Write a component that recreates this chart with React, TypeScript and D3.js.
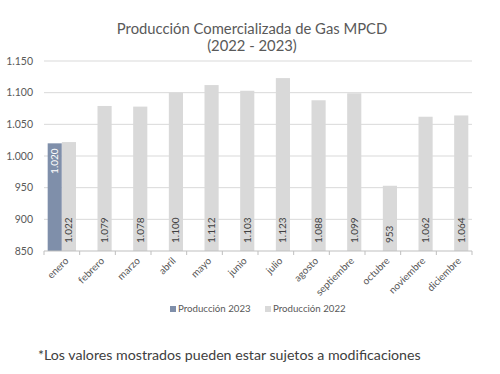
import React from "react";
import * as d3 from "d3";

const months = [
  "enero", "febrero", "marzo", "abril", "mayo", "junio",
  "julio", "agosto", "septiembre", "octubre", "noviembre", "diciembre",
];
const prod2023: (number | null)[] = [1020, null, null, null, null, null, null, null, null, null, null, null];
const prod2022 = [1022, 1079, 1078, 1100, 1112, 1103, 1123, 1088, 1099, 953, 1062, 1064];
const yTicks = [850, 900, 950, 1000, 1050, 1100, 1150];
const seriesNames = ["Producción 2023", "Producción 2022"];

const COLOR_2023 = "#7f8faa";
const COLOR_2022 = "#d9d9d9";
const TEXT = "#595959";
const FONT = "Lato, 'Open Sans', sans-serif";

const locale = d3.formatLocale({ decimal: ",", thousands: ".", grouping: [3], currency: ["$", ""] });
const fmt = locale.format(",d");

export default function App() {
  const width = 500;
  const height = 374;
  const margin = { top: 61, right: 28, bottom: 123, left: 44 };

  const x = d3
    .scaleBand<string>()
    .domain(months)
    .range([margin.left, width - margin.right])
    .paddingInner(0)
    .paddingOuter(0);

  const inner = d3
    .scaleBand<string>()
    .domain(["2023", "2022"])
    .range([0, x.bandwidth()])
    .paddingInner(0)
    .paddingOuter(0.26);

  const y = d3
    .scaleLinear()
    .domain([850, 1150])
    .range([height - margin.bottom, margin.top]);

  const y0 = y(850);
  const boundaries = d3.range(months.length + 1).map((i) =>
    i < months.length ? (x(months[i]) as number) : width - margin.right
  );

  return (
    <svg
      width={width}
      height={height}
      style={{ position: "absolute", left: 0, top: 0, background: "#fff" }}
      fontFamily={FONT}
    >
      <text x={252} y={34} textAnchor="middle" fontSize={14.8} fill={TEXT}>
        Producción Comercializada de Gas MPCD
      </text>
      <text x={252} y={51} textAnchor="middle" fontSize={14.8} fill={TEXT}>
        (2022 - 2023)
      </text>

      {yTicks.map((t) => (
        <g key={t}>
          {t !== 850 && (
            <line x1={margin.left} x2={width - margin.right} y1={y(t)} y2={y(t)} stroke="#d9d9d9" strokeWidth={1} />
          )}
          <text x={33} y={y(t)} dy="0.35em" textAnchor="end" fontSize={10.5} fill={TEXT}>
            {fmt(t)}
          </text>
        </g>
      ))}

      {months.map((m, i) => {
        const bx = x(m) as number;
        const v23 = prod2023[i];
        const v22 = prod2022[i];
        const x23 = bx + (inner("2023") as number);
        const x22 = bx + (inner("2022") as number);
        const bw = inner.bandwidth();
        return (
          <g key={m}>
            {v23 != null && (
              <rect x={x23} y={y(v23)} width={bw} height={y0 - y(v23)} fill={COLOR_2023} />
            )}
            <rect x={x22} y={y(v22)} width={bw} height={y0 - y(v22)} fill={COLOR_2022} />
            {v23 != null && (
              <text
                transform={`translate(${x23 + bw / 2},${y(v23) + 5}) rotate(-90)`}
                textAnchor="end"
                dy="0.35em"
                fontSize={10}
                fill="#ffffff"
              >
                {fmt(v23)}
              </text>
            )}
            <text
              transform={`translate(${x22 + bw / 2},${y0 - 8}) rotate(-90)`}
              textAnchor="start"
              dy="0.35em"
              fontSize={10}
              fill="#404040"
            >
              {fmt(v22)}
            </text>
            <text
              transform={`translate(${bx + x.bandwidth() / 2 + 5},${y0 + 8}) rotate(-45)`}
              textAnchor="end"
              dy="0.35em"
              fontSize={10}
              fill={TEXT}
            >
              {m}
            </text>
          </g>
        );
      })}

      <line x1={margin.left} x2={width - margin.right} y1={y0} y2={y0} stroke="#bfbfbf" />
      {boundaries.map((bx, i) => (
        <line key={i} x1={bx} x2={bx} y1={y0} y2={y0 + 4} stroke="#bfbfbf" />
      ))}

      <g fontSize={9.7} fill={TEXT}>
        <rect x={170} y={306} width={6} height={6} fill={COLOR_2023} />
        <text x={178} y={309} dy="0.35em">{seriesNames[0]}</text>
        <rect x={265} y={306} width={6} height={6} fill={COLOR_2022} />
        <text x={273} y={309} dy="0.35em">{seriesNames[1]}</text>
      </g>

      <text x={38} y={355} dy="0.35em" fontSize={14.2} fill="#404040">
        *Los valores mostrados pueden estar sujetos a modificaciones
      </text>
    </svg>
  );
}
